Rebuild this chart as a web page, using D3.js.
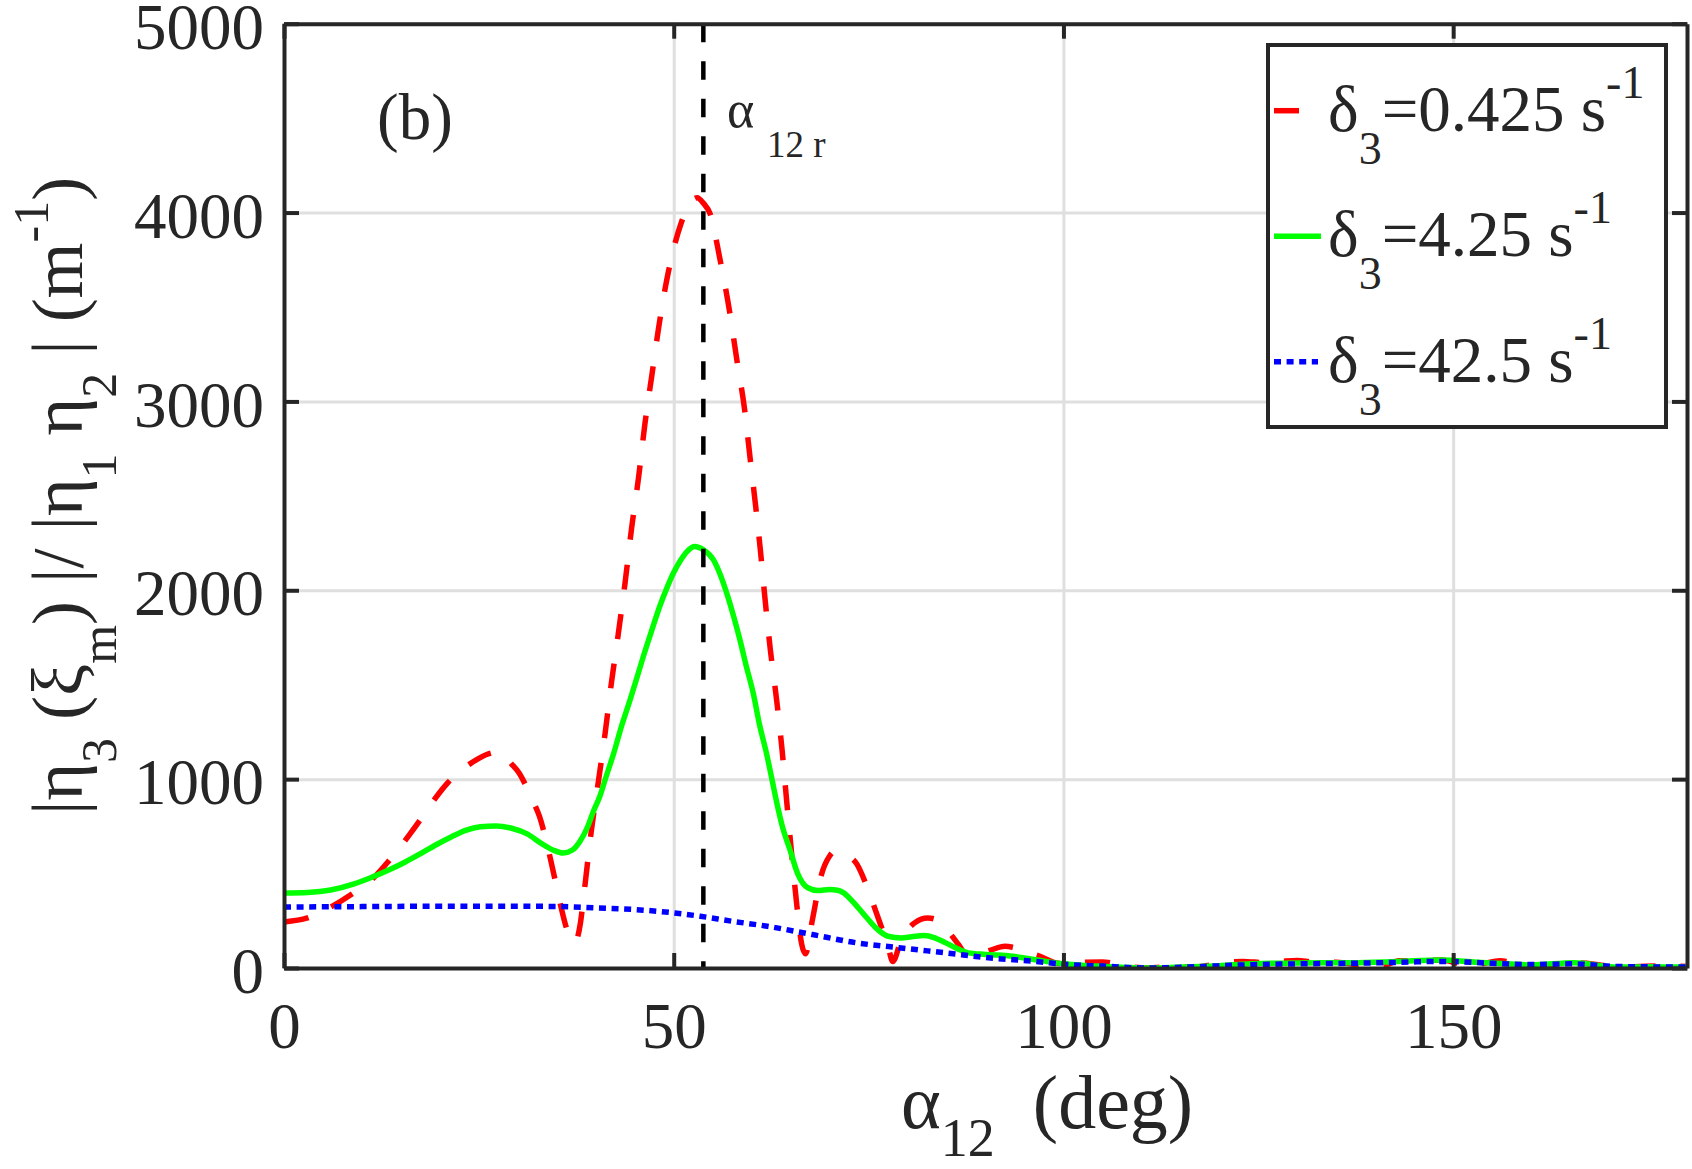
<!DOCTYPE html>
<html>
<head>
<meta charset="utf-8">
<script src="https://cdn.jsdelivr.net/npm/d3@7"></script>
<style>
  body { margin: 0; background: #fff; }
  svg { display: block; }
  text { font-family: "Liberation Serif", "Times New Roman", Times, serif; fill: #262626; }
</style>
</head>
<body>
<script>
// chart data (alpha12 in deg, value in 1/m)

const xTicks = [0, 50, 100, 150];
const yTicks = [0, 1000, 2000, 3000, 4000, 5000];

// resonance angle alpha12r
const alphaR = 53.8;

// delta3 = 0.425 s^-1 (red dashed)
const redAlpha = [0, 3, 6, 9, 11.3, 13.5, 15.5, 17.5, 19.4, 21, 22.3, 24, 26.3, 27.5, 29.2, 30.2, 31.1, 32.1,
  32.8, 33.6, 34.6, 35.5, 36.3, 37.3, 38, 38.5, 39.4, 40.3, 41.2, 42, 42.9, 43.75, 44.6, 45.5, 46.3,
  47.2, 48.1, 49, 50, 51, 52, 53, 53.8, 54.7, 55.9, 57.2, 58.1, 59.1, 59.8, 60.5, 61.1, 61.7, 62.4,
  63.2, 63.9, 64.5, 65.2, 65.8, 66.4, 66.9, 67.8, 68.9, 70, 70.8, 72, 73.5, 74.6, 75.5, 76.3, 77.5,
  78.1, 79.2, 80.9, 82.6, 84.1, 85.5, 86.7, 87.8, 89, 90.7, 92.5, 93.5, 95.2, 97, 99.3, 101, 102.7,
  105, 107, 109, 111, 113, 116, 118, 120, 123, 126, 128, 130, 132, 135, 138, 140, 141.5, 143, 146,
  148.5, 150.5, 152, 154, 156, 158, 160, 162, 164, 166.5, 169, 172, 176, 180];
const redVal = [244, 265, 323, 400, 470, 570, 673, 785, 898, 980, 1034, 1085, 1135, 1145, 1080, 1030, 960, 870,
  800, 680, 500, 330, 204, 135, 230, 398, 717, 978, 1243, 1508, 1773, 2037, 2330, 2600, 2880,
  3140, 3400, 3620, 3810, 3950, 4045, 4078, 4050, 3990, 3760, 3468, 3220, 2955, 2700, 2450, 2220, 1960, 1684,
  1420, 1155, 880, 575, 330, 130, 75, 257, 487, 593, 620, 600, 550, 451, 350, 257, 115,
  35, 150, 239, 265, 248, 180, 115, 53, 70, 95, 115, 110, 88, 62, 25, 22, 30,
  32, 20, 5, 0, 5, 5, 10, 25, 35, 28, 35, 40, 32, 30, 15, 5, 18, 38, 40,
  42, 25, 10, 25, 38, 26, 10, 5, 18, 26, 15, 5, 10, 8];

// delta3 = 4.25 s^-1 (green solid)
const greenAlpha = [0, 3, 6, 9, 11.3, 13.5, 15.5, 17.5, 19.4, 21.5, 23.3, 25.2, 27.2, 29.2, 31.2, 33, 34.5, 35.8,
  37, 38, 39, 39.7, 40.5, 41.3, 42.3, 43.3, 44.4, 45.3, 46.1, 47.2, 48.2, 49.1, 49.95, 50.9, 51.7,
  52.7, 53.8, 55.1, 56, 56.8, 57.7, 58.5, 59.3, 60.2, 61, 61.9, 62.6, 63.2, 64, 64.9, 65.9, 67.2,
  68.5, 70, 71, 71.8, 73, 74.6, 76, 77.5, 79.2, 80.5, 82.1, 83.5, 84.9, 86.5, 87.8, 90, 93.5, 96.4,
  100, 104, 108, 111, 115, 120, 124, 130, 137, 143, 148.5, 153, 157, 160, 165.5, 171, 175, 180];
const greenVal = [397, 400, 413, 445, 481, 520, 560, 605, 650, 695, 729, 748, 752, 740, 710, 660, 625, 609,
  625, 673, 752, 830, 907, 1010, 1137, 1280, 1420, 1540, 1649, 1790, 1914, 2010, 2090, 2160, 2205,
  2232, 2215, 2161, 2080, 1985, 1860, 1737, 1600, 1455, 1290, 1137, 1000, 880, 740, 628, 500, 425,
  410, 416, 412, 398, 350, 274, 210, 168, 159, 165, 172, 160, 133, 100, 80, 72, 62, 44,
  22, 10, 3, 0, 5, 12, 22, 27, 28, 35, 42, 30, 22, 16, 28, 5, 6, 5];

// delta3 = 42.5 s^-1 (blue dotted)
const blueAlpha = [0, 10, 20, 30, 35.7, 40, 44.8, 50, 53.4, 57.4, 62, 67.8, 73.5, 79.2, 84.9, 90.7, 96.4,
  100, 105, 110.7, 116, 122, 130, 137, 143, 148.5, 155, 160, 165.5, 171, 180];
const blueVal = [323, 325, 327, 327, 325, 318, 310, 292, 274, 248, 221, 177, 133, 106, 80, 53, 35,
  20, 10, 0, 5, 15, 22, 25, 30, 35, 25, 18, 22, 8, 5];

// size of the picture and of the plot box
const width = 1692;
const height = 1169;
const plotLeft = 284, plotRight = 1687, plotTop = 23.7, plotBottom = 968;
const axisColor = "#262626";
const serif = "'Liberation Serif', 'Times New Roman', Times, serif";

let svg = d3.select("body").append("svg")
  .attr("width", width)
  .attr("height", height);

let x = d3.scaleLinear().domain([0, 180]).range([plotLeft, plotRight]);
let y = d3.scaleLinear().domain([0, 5000]).range([plotBottom, plotTop]);

// grid lines
svg.append("g")
  .attr("transform", "translate(0," + plotBottom + ")")
  .call(d3.axisBottom(x).tickValues(xTicks).tickSize(-(plotBottom - plotTop)).tickFormat(""))
  .call(g => g.select(".domain").remove())
  .call(g => g.selectAll("line").attr("stroke", "#dfdfdf").attr("stroke-width", 3));

svg.append("g")
  .attr("transform", "translate(" + plotLeft + ",0)")
  .call(d3.axisLeft(y).tickValues(yTicks).tickSize(-(plotRight - plotLeft)).tickFormat(""))
  .call(g => g.select(".domain").remove())
  .call(g => g.selectAll("line").attr("stroke", "#dfdfdf").attr("stroke-width", 3));

// clip the curves to the plot box
svg.append("clipPath").attr("id", "plotClip")
  .append("rect")
  .attr("x", plotLeft).attr("y", plotTop)
  .attr("width", plotRight - plotLeft).attr("height", plotBottom - plotTop);

let line = d3.line()
  .x(d => x(d[0]))
  .y(d => y(d[1]))
  .curve(d3.curveMonotoneX);

let series = [
  { alpha: redAlpha, val: redVal, color: "#ff0000", dash: "25,25", label: "0.425" },
  { alpha: greenAlpha, val: greenVal, color: "#00ff00", dash: null, label: "4.25" },
  { alpha: blueAlpha, val: blueVal, color: "#0000ff", dash: "7,5.6", label: "42.5" }
];

let curves = svg.append("g").attr("clip-path", "url(#plotClip)");

series.forEach(s => {
  curves.append("path")
    .datum(d3.zip(s.alpha, s.val))
    .attr("d", line)
    .attr("fill", "none")
    .attr("stroke", s.color)
    .attr("stroke-width", 5.5)
    .attr("stroke-dasharray", s.dash);
});

// resonance line
curves.append("line")
  .attr("x1", x(alphaR)).attr("x2", x(alphaR))
  .attr("y1", y(5000)).attr("y2", y(0))
  .attr("stroke", "#000")
  .attr("stroke-width", 4.5)
  .attr("stroke-dasharray", "18.5,19");

// axes, ticks pointing in, box all round
function styleAxis(g) {
  g.attr("font-family", serif);
  g.select(".domain").attr("stroke", axisColor).attr("stroke-width", 4);
  g.selectAll(".tick line").attr("stroke", axisColor).attr("stroke-width", 4);
  g.selectAll(".tick text")
    .attr("fill", axisColor)
    .attr("font-size", 65);
}

svg.append("g")
  .attr("transform", "translate(0," + plotBottom + ")")
  .call(d3.axisBottom(x).tickValues(xTicks).tickFormat(d3.format("d"))
    .tickSizeInner(-15).tickSizeOuter(0).tickPadding(34))
  .call(styleAxis);

svg.append("g")
  .attr("transform", "translate(0," + plotTop + ")")
  .call(d3.axisTop(x).tickValues(xTicks).tickSizeInner(-15).tickSizeOuter(0).tickFormat(""))
  .call(styleAxis);

svg.append("g")
  .attr("transform", "translate(" + plotLeft + ",0)")
  .call(d3.axisLeft(y).tickValues(yTicks).tickFormat(d3.format("d"))
    .tickSizeInner(-15).tickSizeOuter(0).tickPadding(20))
  .call(styleAxis)
  .call(g => g.selectAll(".tick text").attr("dy", "0.38em"));

svg.append("g")
  .attr("transform", "translate(" + plotRight + ",0)")
  .call(d3.axisRight(y).tickValues(yTicks).tickSizeInner(-15).tickSizeOuter(0).tickFormat(""))
  .call(styleAxis);

// panel letter
svg.append("text")
  .attr("x", 377).attr("y", 139)
  .attr("font-size", 65)
  .text("(b)");

// alpha12r label
let rLabel = svg.append("text")
  .attr("x", 727).attr("y", 127)
  .attr("font-size", 52);
rLabel.append("tspan").text("α");
rLabel.append("tspan").attr("x", 767).attr("y", 157).attr("font-size", 37).text("12 r");

// x label
let xLabel = svg.append("text")
  .attr("x", 901).attr("y", 1128)
  .attr("font-size", 76)
  .attr("xml:space", "preserve");
xLabel.append("tspan").text("α");
xLabel.append("tspan").attr("dy", 28).attr("font-size", 54).text("12");
xLabel.append("tspan").attr("dy", -28).text("  (deg)");

// y label, built from pieces: [text, shift] where shift 1 = subscript, -1 = superscript
let yParts = [["|η", 0], ["3", 1], [" (ξ", 0], ["m", 1], [") |/ |η", 0], ["1", 1], [" η", 0], ["2", 1],
  [" | (m", 0], ["-1", -1], [")", 0]];
let yLabel = svg.append("text")
  .attr("transform", "translate(82," + ((plotTop + plotBottom) / 2) + ") rotate(-90)")
  .attr("text-anchor", "middle")
  .attr("font-size", 72)
  .attr("xml:space", "preserve");
let shiftNow = 0;
yParts.forEach(p => {
  let target = p[1] * 34;
  yLabel.append("tspan")
    .attr("dy", target - shiftNow)
    .attr("font-size", p[1] === 0 ? 72 : 50)
    .text(p[0]);
  shiftNow = target;
});

// legend
let legend = svg.append("g");
legend.append("rect")
  .attr("x", 1268).attr("y", 45)
  .attr("width", 398).attr("height", 382)
  .attr("fill", "#fff")
  .attr("stroke", axisColor)
  .attr("stroke-width", 4);

series.forEach((s, i) => {
  let base = 130.7 + i * 125.5;
  legend.append("line")
    .attr("x1", 1274).attr("x2", i === 2 ? 1318 : 1321)
    .attr("y1", base - 20).attr("y2", base - 20)
    .attr("stroke", s.color)
    .attr("stroke-width", 5.5)
    .attr("stroke-dasharray", s.dash);
  let t = legend.append("text")
    .attr("x", 1328).attr("y", base)
    .attr("font-size", 65)
    .attr("xml:space", "preserve");
  t.append("tspan").text("δ");
  t.append("tspan").attr("dy", 33).attr("font-size", 46).text("3");
  t.append("tspan").attr("dy", -33).text("=" + s.label + " s");
  t.append("tspan").attr("dy", -33).attr("font-size", 46).text("-1");
});
</script>
</body>
</html>
